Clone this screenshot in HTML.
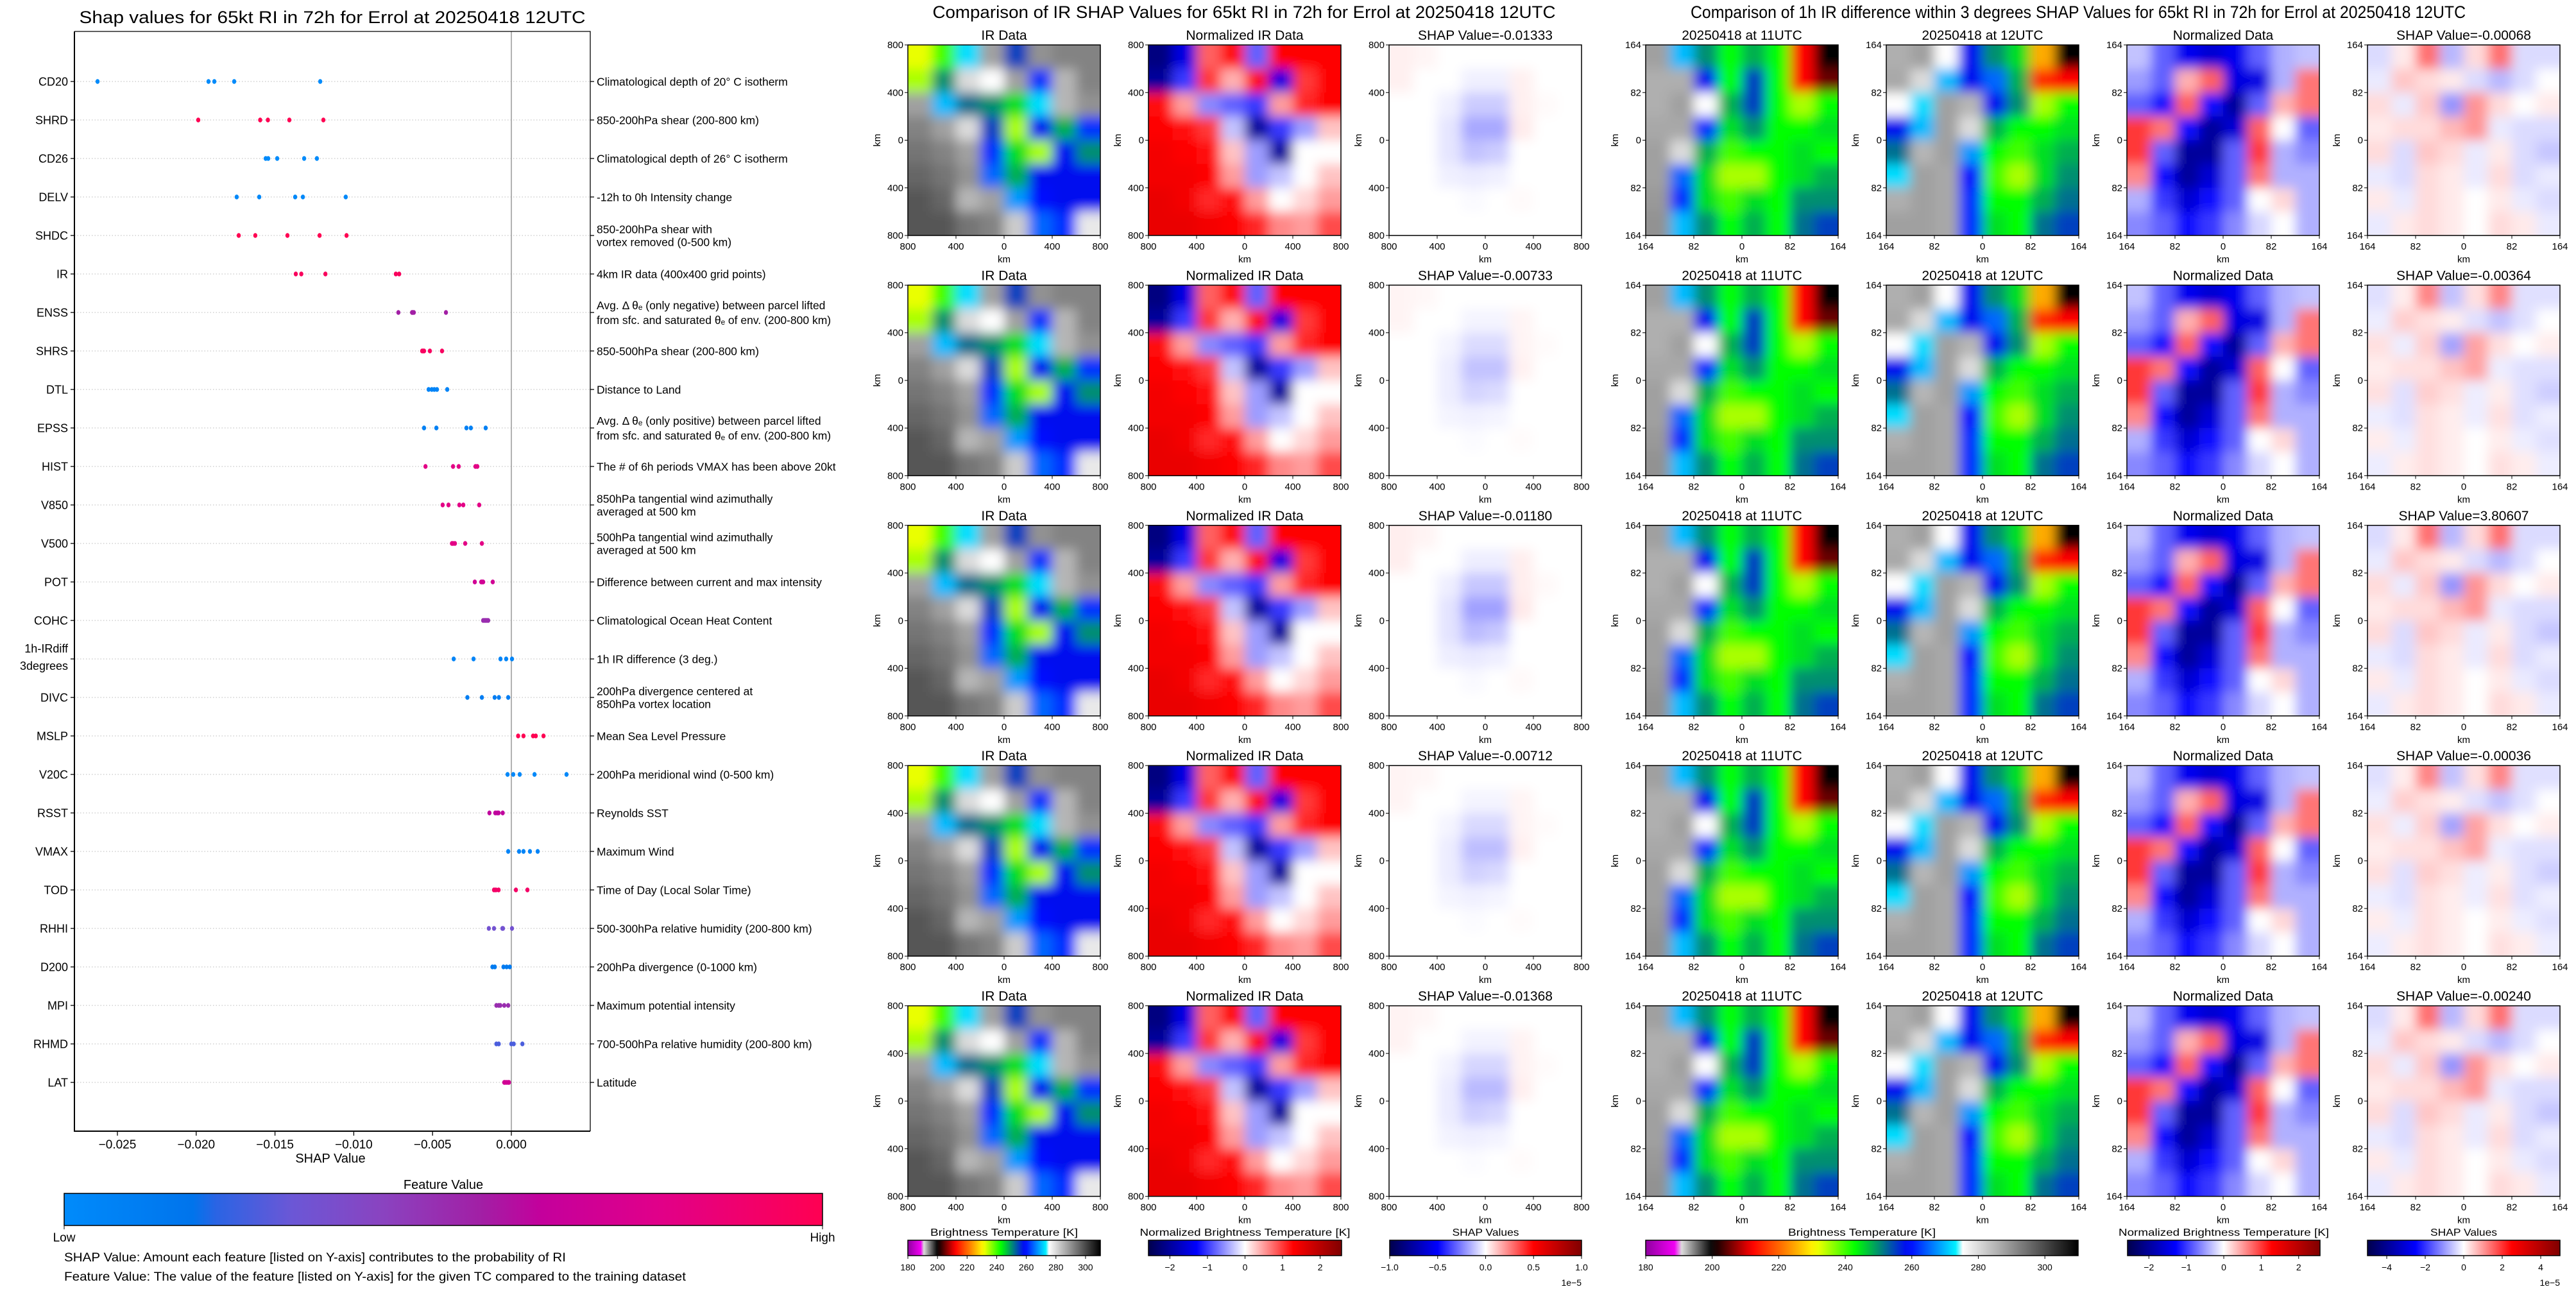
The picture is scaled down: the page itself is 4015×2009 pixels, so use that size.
<!DOCTYPE html>
<html><head><meta charset="utf-8">
<style>
html,body{margin:0;padding:0;background:#fff;}
svg{display:block;}
text{font-family:"Liberation Sans","DejaVu Sans",sans-serif;fill:#000;}
</style></head>
<body>
<svg id="fig" xmlns="http://www.w3.org/2000/svg" width="4015" height="2009" viewBox="0 0 4015 2009"></svg>
<script>
// ---------------- LEFT CHART DATA ----------------
const features = ["CD20","SHRD","CD26","DELV","SHDC","IR","ENSS","SHRS","DTL","EPSS","HIST","V850","V500","POT","COHC","1h-IRdiff\n3degrees","DIVC","MSLP","V20C","RSST","VMAX","TOD","RHHI","D200","MPI","RHMD","LAT"];
const descriptions = ["Climatological depth of 20° C isotherm","850-200hPa shear (200-800 km)","Climatological depth of 26° C isotherm","-12h to 0h Intensity change","850-200hPa shear with\nvortex removed (0-500 km)","4km IR data (400x400 grid points)","Avg. Δ θₑ (only negative) between parcel lifted\nfrom sfc. and saturated θₑ of env. (200-800 km)","850-500hPa shear (200-800 km)","Distance to Land","Avg. Δ θₑ (only positive) between parcel lifted\nfrom sfc. and saturated θₑ of env. (200-800 km)","The # of 6h periods VMAX has been above 20kt","850hPa tangential wind azimuthally\naveraged at 500 km","500hPa tangential wind azimuthally\naveraged at 500 km","Difference between current and max intensity","Climatological Ocean Heat Content","1h IR difference (3 deg.)","200hPa divergence centered at\n850hPa vortex location","Mean Sea Level Pressure","200hPa meridional wind (0-500 km)","Reynolds SST","Maximum Wind","Time of Day (Local Solar Time)","500-300hPa relative humidity (200-800 km)","200hPa divergence (0-1000 km)","Maximum potential intensity","700-500hPa relative humidity (200-800 km)","Latitude"];
const shapValues = [
 [-0.02626,-0.01922,-0.01885,-0.01759,-0.01213],
 [-0.01987,-0.01594,-0.01545,-0.01409,-0.01193],
 [-0.01559,-0.01543,-0.01486,-0.01315,-0.01234],
 [-0.01743,-0.01600,-0.01372,-0.01323,-0.01051],
 [-0.01730,-0.01625,-0.01421,-0.01217,-0.01046],
 [-0.01368,-0.01333,-0.01180,-0.00733,-0.00712],
 [-0.00717,-0.00630,-0.00627,-0.00619,-0.00415],
 [-0.00566,-0.00560,-0.00554,-0.00517,-0.00440],
 [-0.00525,-0.00505,-0.00489,-0.00472,-0.00407],
 [-0.00554,-0.00476,-0.00285,-0.00257,-0.00163],
 [-0.00545,-0.00370,-0.00334,-0.00228,-0.00216],
 [-0.00436,-0.00399,-0.00330,-0.00305,-0.00204],
 [-0.00377,-0.00370,-0.00358,-0.00293,-0.00187],
 [-0.00232,-0.00191,-0.00185,-0.00179,-0.00118],
 [-0.00179,-0.00170,-0.00163,-0.00155,-0.00147],
 [-0.00366,-0.00240,-0.00069,-0.00033,0.00004],
 [-0.00279,-0.00187,-0.00106,-0.00079,-0.00020],
 [0.00043,0.00077,0.00138,0.00155,0.00204],
 [-0.00024,0.00012,0.00053,0.00147,0.00350],
 [-0.00139,-0.00102,-0.00090,-0.00081,-0.00055],
 [-0.00020,0.00049,0.00077,0.00118,0.00167],
 [-0.00110,-0.00098,-0.00081,0.00029,0.00102],
 [-0.00143,-0.00110,-0.00057,-0.00053,0.00004],
 [-0.00120,-0.00105,-0.00050,-0.00030,-0.00010],
 [-0.00095,-0.00080,-0.00070,-0.00045,-0.00020],
 [-0.00095,-0.00080,0.00000,0.00015,0.00070],
 [-0.00045,-0.00030,-0.00015,-0.00040,-0.00020]
];
const featureValues = [0,1,0,0.02,1,0.96,0.55,0.95,0.05,0.08,0.8,0.8,0.8,0.7,0.5,0.05,0.1,1,0.02,0.62,0.05,0.92,0.33,0.12,0.5,0.25,0.7];
const xTicks = [-0.025,-0.020,-0.015,-0.010,-0.005,0.000];

// ---------------- IMAGE PANEL DATA (8x8 coarse grids) ----------------
const irTemp = [
 [232,240,272,288,255,290,292,292],
 [235,250,280,275,288,262,285,292],
 [288,270,252,250,245,272,285,290],
 [292,288,280,255,235,258,248,262],
 [294,292,288,262,245,235,258,250],
 [296,294,290,265,248,258,258,258],
 [298,296,285,288,268,260,258,258],
 [298,298,294,292,282,265,262,278]];
const irNorm = [
 [-2.2,-1.5,0.8,1.2,-0.8,1.3,1.3,1.3],
 [-2,-1,1,0.4,1.2,-1.5,1,1.3],
 [1.2,0.5,-0.6,-0.8,-1,0.5,1.1,1.3],
 [1.3,1.2,1,-0.3,-2,-1,-0.5,0.3],
 [1.4,1.3,1.2,0.3,-0.5,-2,0,0],
 [1.4,1.4,1.3,0.5,-0.5,-0.3,0,0.3],
 [1.5,1.4,1.1,1.2,0.5,0,0.2,0.5],
 [1.5,1.5,1.4,1.3,1.1,0.6,0.5,0.9]];
const irShap = [
 [0.03,0.02,0,0,0,0,0,0],
 [0.03,0,0,-0.03,-0.03,0.03,0,0],
 [0,0,-0.03,-0.1,-0.1,0.03,0.01,0],
 [0,0,-0.05,-0.17,-0.17,0.04,0,0],
 [0,0,-0.05,-0.12,-0.1,0,0,0],
 [0,0,-0.03,-0.04,-0.03,0,0,0],
 [0,0,0,-0.01,0,0.01,0,0],
 [0,0,0,0,0,0,0,0]];
const irShapRowScale = [1,0.7,1.1,0.75,0.8];
const irShapTitles = ["-0.01333","-0.00733","-0.01180","-0.00712","-0.01368"];
const t11 = [
 [288,270,250,243,248,243,212,200],
 [286,286,258,243,255,243,212,205],
 [286,288,275,248,255,243,235,243],
 [287,287,262,245,250,243,243,245],
 [288,280,248,240,243,243,245,243],
 [288,265,245,235,235,243,245,248],
 [289,262,245,240,245,243,250,250],
 [290,270,250,243,248,243,252,255]];
const t12 = [
 [286,288,275,258,250,245,225,200],
 [287,280,270,258,265,248,215,212],
 [275,272,288,285,258,250,235,243],
 [258,270,288,280,248,243,243,245],
 [252,285,288,268,243,240,245,248],
 [272,288,287,260,240,235,245,250],
 [286,288,287,262,243,243,248,252],
 [288,288,287,262,245,243,252,255]];
const diffNorm = [
 [-0.3,-0.8,-1.4,-1.6,-1.4,-0.8,-0.4,-0.3],
 [-0.5,-0.8,0.4,0.8,-1.5,-1.5,-0.4,0.7],
 [-0.8,-1.2,0.8,-1.2,-2,-0.8,0.4,0.7],
 [1,0.7,-1.2,-2,-1.6,0.8,0,-0.8],
 [1,-0.8,-2,-2,-0.8,1,-0.4,-0.6],
 [0.6,-1.2,-2,-1.6,-0.8,0.7,-0.4,-0.4],
 [-0.4,-1,-1.6,-1.2,-0.8,0,0.2,-0.4],
 [-0.6,-0.8,-1.2,-1,-0.6,-0.2,0,-0.4]];
const diffShap = [
 [-0.5,0.3,2,-1,0.5,2,-0.5,-0.5],
 [-0.3,0.8,0.5,0.3,-0.5,-1,-0.5,0],
 [0.5,-0.3,0.8,-1.5,1.5,0.5,0,0.3],
 [0.3,0.5,0.5,1,1.5,-0.3,-0.5,-0.5],
 [0.5,-0.5,0.8,0.5,-0.3,0.3,-0.5,-0.8],
 [-0.3,-0.5,0.5,0.3,-0.3,0.5,-0.5,-0.3],
 [0.3,-0.3,0.5,0.3,0,0.3,-0.3,-0.5],
 [-0.3,0.3,0.5,0.3,0,0.5,0.3,-0.3]];
const diffShapRowScale = [0.7,0.6,0.7,0.6,0.7];
const diffShapTitles = ["-0.00068","-0.00364","3.80607","-0.00036","-0.00240"];
const irTickLabels = ["800","400","0","400","800"];
const diffTickLabels = ["164","82","0","82","164"];
const btTicks = [180,200,220,240,260,280,300];
const normTicks = [-2,-1,0,1,2];
const shapTicksL = [-1.0,-0.5,0.0,0.5,1.0];
const shapTicksR = [-4,-2,0,2,4];

// ---------------- helpers ----------------
const NS="http://www.w3.org/2000/svg";
const svg=document.getElementById('fig');
function mk(tag,attrs,parent){const e=document.createElementNS(NS,tag);for(const k in attrs)e.setAttribute(k,attrs[k]);(parent||svg).appendChild(e);return e;}
function txt(s,x,y,size,anchor,parent,extra){const e=mk('text',Object.assign({x:x,y:y,'font-size':size,'text-anchor':anchor||'start'},extra||{}),parent);e.textContent=s;return e;}
function hex(h){return [parseInt(h.slice(1,3),16),parseInt(h.slice(3,5),16),parseInt(h.slice(5,7),16)];}
function cmap(stops,t){if(t<=stops[0][0])return stops[0][1];for(let i=1;i<stops.length;i++){if(t<=stops[i][0]){const a=stops[i-1],b=stops[i];const f=(t-a[0])/((b[0]-a[0])||1);const A=hex(a[1]),B=hex(b[1]);return 'rgb('+A.map((v,j)=>Math.round(v+(B[j]-v)*f)).join(',')+')';}}return stops[stops.length-1][1];}
const shapStops=[[0,'#008bfb'],[0.17,'#0074ec'],[0.2,'#2a64e4'],[0.3,'#6b57d6'],[0.42,'#8a43c0'],[0.55,'#a21fa5'],[0.63,'#c4009c'],[0.78,'#e0008a'],[1,'#ff0052']];
const seismic=[[0,'#00004c'],[0.25,'#0000ff'],[0.5,'#ffffff'],[0.75,'#ff0000'],[1,'#800000']];
const irStops=[[180,'#9000a0'],[189.9,'#ff00ff'],[190,'#f0f0f0'],[200,'#000000'],[212,'#ff0000'],[222,'#ff8000'],[231,'#ffff00'],[243,'#00ff00'],[259,'#0000ff'],[274,'#00ffff'],[275,'#ffffff'],[310,'#000000']];
const irColor=v=>cmap(irStops,v);
const normColor=v=>cmap(seismic,(v+2.57)/5.14);
const shapLColor=v=>cmap(seismic,(v+1)/2);
const shapRColor=v=>cmap(seismic,(v+5)/10);

const defs=mk('defs',{});
const blur=mk('filter',{id:'soft',x:'-10%',y:'-10%',width:'120%',height:'120%'},defs);
mk('feGaussianBlur',{stdDeviation:'9'},blur);

// ---------------- LEFT CHART ----------------
const AX={l:116,r:920,t:49,b:1763};
const x0v=797, pxPer=122.8/0.005;
const xs=v=>x0v+v*pxPer;
const ys=i=>127+i*60;
const left=mk('g',{});


const t1=txt('Shap values for 65kt RI in 72h for Errol at 20250418 12UTC',518,36,27,'middle',left,{textLength:789,lengthAdjust:'spacingAndGlyphs'});


features.forEach((f,i)=>{
  const y=ys(i);
  const gl=mk('line',{x1:AX.l,x2:AX.r,y1:y,y2:y,stroke:'#c8c8c8','stroke-width':1.2,'stroke-dasharray':'1.5,3'},left);
  
  
  mk('line',{x1:AX.l-6,x2:AX.l,y1:y,y2:y,stroke:'#000','stroke-width':1.3},left);
  mk('line',{x1:AX.r,x2:AX.r+6,y1:y,y2:y,stroke:'#000','stroke-width':1.3},left);
  const lines=f.split('\n');
  lines.forEach((ln,k)=>{const e=txt(ln,106,y+6.5+(k-(lines.length-1)/2)*21+(lines.length>1?-6:0)+ (lines.length>1?k*6:0),18,'end',left);
    
    });
  const dl=descriptions[i].split('\n');
  dl.forEach((ln,k)=>{const e=txt(ln,930,y+6.5+(k-(dl.length-1)/2)*(dl.length>1&&ln.indexOf('θ')>=0?23:20),17.5,'start',left);
    
    });
});
const zl=mk('line',{x1:xs(0),x2:xs(0),y1:AX.t,y2:AX.b,stroke:'#999','stroke-width':1.5},left);


shapValues.forEach((vals,i)=>{
  vals.forEach(v=>{
    const p=mk('ellipse',{cx:xs(v),cy:ys(i),rx:3.2,ry:3.8,fill:cmap(shapStops,featureValues[i])},left);
    
    
  });
});
mk('polyline',{points:`${AX.l},${AX.t} ${AX.r},${AX.t} ${AX.r},${AX.b}`,fill:'none',stroke:'#000','stroke-width':1.3},left);
const spine=mk('polyline',{points:`${AX.l},${AX.t} ${AX.l},${AX.b} ${AX.r},${AX.b}`,fill:'none',stroke:'#000','stroke-width':2},left);


xTicks.forEach(v=>{
  mk('line',{x1:xs(v),x2:xs(v),y1:AX.b,y2:AX.b+7,stroke:'#000','stroke-width':1.3},left);
  const s=(v<0?'−':'')+Math.abs(v).toFixed(3);
  const e=txt(s,xs(v),1790,19,'middle',left);
  
  
});
const xl=txt('SHAP Value',515,1812,20,'middle',left);


const fv=txt('Feature Value',691,1853,20,'middle',left);


const lg=mk('linearGradient',{id:'shapgrad'},defs);
shapStops.forEach(s=>mk('stop',{offset:s[0],'stop-color':s[1]},lg));
const cbar=mk('rect',{x:100,y:1860,width:1182,height:50,fill:'url(#shapgrad)',stroke:'#000','stroke-width':1.5},left);


mk('line',{x1:100,x2:100,y1:1910,y2:1916,stroke:'#000'},left);
mk('line',{x1:1282,x2:1282,y1:1910,y2:1916,stroke:'#000'},left);
const lo=txt('Low',100,1935,19,'middle',left);


const hi=txt('High',1282,1935,19,'middle',left);


const n1=txt('SHAP Value: Amount each feature [listed on Y-axis] contributes to the probability of RI',100,1966,19,'start',left,{textLength:782,lengthAdjust:'spacingAndGlyphs'});


const n2=txt('Feature Value: The value of the feature [listed on Y-axis] for the given TC compared to the training dataset',100,1996,19,'start',left,{textLength:969,lengthAdjust:'spacingAndGlyphs'});



// ---------------- PANELS ----------------
let clipId=0;
const PW=300, PH=297;
const rowTop=r=>70+r*374.4;
function panel(x0,y0,grid,colorFn,scale,title,ticks,name){
  const g=mk('g',{});
  
  
  const id='c'+(clipId++);
  const cp=mk('clipPath',{id:id},defs);
  mk('rect',{x:x0,y:y0,width:PW,height:PH},cp);
  const cg=mk('g',{'clip-path':`url(#${id})`},g);
  const bg=mk('g',{filter:'url(#soft)'},cg);
  const n=grid.length, cw=PW/n, ch=PH/n, pad=30;
  grid.forEach((row,r)=>row.forEach((v,c)=>{
    const x=x0+c*cw-(c===0?pad:0), y=y0+r*ch-(r===0?pad:0);
    const w=cw+(c===0?pad:0)+(c===n-1?pad:0)+0.5, h=ch+(r===0?pad:0)+(r===n-1?pad:0)+0.5;
    const cell=mk('rect',{x:x,y:y,width:w,height:h,fill:colorFn(v*scale)},bg);
    
    
  }));
  mk('rect',{x:x0,y:y0,width:PW,height:PH,fill:'none',stroke:'#000','stroke-width':1.5},g);
  const tt=txt(title,x0+PW/2,y0-8,21,'middle',g);
  
  
  ticks.forEach((s,k)=>{
    const tx=x0+k*PW/4, ty=y0+k*PH/4;
    mk('line',{x1:tx,x2:tx,y1:y0+PH,y2:y0+PH+5,stroke:'#000'},g);
    mk('line',{x1:x0-5,x2:x0,y1:ty,y2:ty,stroke:'#000'},g);
    const a=txt(s,tx,y0+PH+22,15,'middle',g);
    
    
    const b=txt(s,x0-7,ty+5,15,'end',g);
    
    
  });
  const kx=txt('km',x0+PW/2,y0+PH+42,15,'middle',g);
  
  
  const ky=txt('km',0,0,15,'middle',g,{transform:`translate(${x0-43},${y0+PH/2}) rotate(-90)`});
  
  
}
const mt=txt('Comparison of IR SHAP Values for 65kt RI in 72h for Errol at 20250418 12UTC',1939,28,27,'middle',null,{textLength:971,lengthAdjust:'spacingAndGlyphs'});


const rt=txt('Comparison of 1h IR difference within 3 degrees SHAP Values for 65kt RI in 72h for Errol at 20250418 12UTC',3239,28,27,'middle',null,{textLength:1208,lengthAdjust:'spacingAndGlyphs'});


for(let r=0;r<5;r++){
  const y=rowTop(r);
  panel(1415,y,irTemp,irColor,1,'IR Data',irTickLabels,'ir-data-panel');
  panel(1790,y,irNorm,normColor,1,'Normalized IR Data',irTickLabels,'normalized-ir-panel');
  panel(2165,y,irShap,shapLColor,irShapRowScale[r],'SHAP Value='+irShapTitles[r],irTickLabels,'ir-shap-panel');
  panel(2565,y,t11,irColor,1,'20250418 at 11UTC',diffTickLabels,'ir-11utc-panel');
  panel(2940,y,t12,irColor,1,'20250418 at 12UTC',diffTickLabels,'ir-12utc-panel');
  panel(3315,y,diffNorm,normColor,1,'Normalized Data',diffTickLabels,'normalized-diff-panel');
  panel(3690,y,diffShap,shapRColor,diffShapRowScale[r],'SHAP Value='+diffShapTitles[r],diffTickLabels,'diff-shap-panel');
}

// ---------------- PANEL COLORBARS ----------------
function colorbar(x0,w,lo,hi,fn,ticks,fmt,title,titleW,name,offset){
  const g=mk('g',{});
  
  
  const gid='g'+(clipId++);
  const lgd=mk('linearGradient',{id:gid},defs);
  for(let k=0;k<=60;k++){const v=lo+(hi-lo)*k/60;mk('stop',{offset:k/60,'stop-color':fn(v)},lgd);}
  mk('rect',{x:x0,y:1933,width:w,height:24,fill:`url(#${gid})`,stroke:'#000','stroke-width':1.5},g);
  const tt=txt(title,x0+w/2,1926,16,'middle',g,{textLength:titleW,lengthAdjust:'spacingAndGlyphs'});
  
  
  ticks.forEach(t=>{
    const x=x0+(t-lo)/(hi-lo)*w;
    mk('line',{x1:x,x2:x,y1:1957,y2:1962,stroke:'#000'},g);
    const e=txt(fmt(t),x,1980,14,'middle',g);
    
    
  });
  if(offset){const e=txt('1e−5',x0+w,2004,14,'end',g);
    
    }
}
const neg=s=>String(s).replace('-','−');
colorbar(1415,300,180,310,irColor,btTicks,t=>String(t),'Brightness Temperature [K]',230,'bt-colorbar',false);
colorbar(1790,301,-2.57,2.57,normColor,normTicks,t=>neg(t),'Normalized Brightness Temperature [K]',328,'norm-colorbar',false);
colorbar(2166,299,-1,1,shapLColor,shapTicksL,t=>neg(t.toFixed(1)),'SHAP Values',104,'ir-shap-colorbar',true);
colorbar(2565,674,180,310,irColor,btTicks,t=>String(t),'Brightness Temperature [K]',230,'diff-bt-colorbar',false);
colorbar(3316,300,-2.57,2.57,normColor,normTicks,t=>neg(t),'Normalized Brightness Temperature [K]',328,'diff-norm-colorbar',false);
colorbar(3690,300,-5,5,shapRColor,shapTicksR,t=>neg(t),'SHAP Values',104,'diff-shap-colorbar',true);
</script>
</body></html>
